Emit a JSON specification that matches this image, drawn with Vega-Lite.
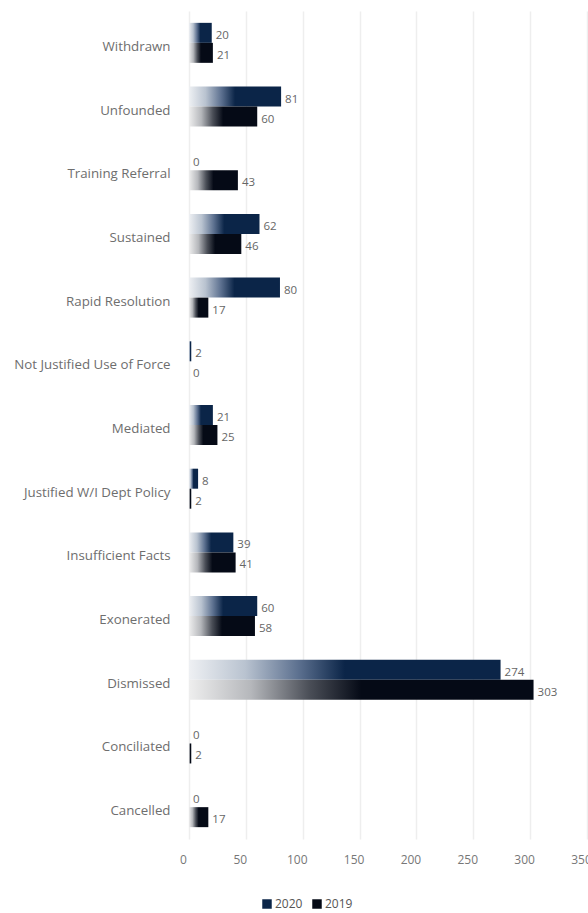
{
  "$schema": "https://vega.github.io/schema/vega-lite/v6.json",
  "autosize": "none",
  "width": 398,
  "height": 828,
  "padding": {"left": 189, "top": 11, "right": 1, "bottom": 74},
  "background": "white",
  "config": {
    "view": {"stroke": null},
    "font": "Open Sans",
    "axis": {"labelFont": "Open Sans", "labelColor": "#6b6b6b"},
    "legend": {"labelFont": "Open Sans"}
  },
  "data": {
    "values": [
      {"category": "Withdrawn", "year": "2020", "value": 20},
      {"category": "Withdrawn", "year": "2019", "value": 21},
      {"category": "Unfounded", "year": "2020", "value": 81},
      {"category": "Unfounded", "year": "2019", "value": 60},
      {"category": "Training Referral", "year": "2020", "value": 0},
      {"category": "Training Referral", "year": "2019", "value": 43},
      {"category": "Sustained", "year": "2020", "value": 62},
      {"category": "Sustained", "year": "2019", "value": 46},
      {"category": "Rapid Resolution", "year": "2020", "value": 80},
      {"category": "Rapid Resolution", "year": "2019", "value": 17},
      {"category": "Not Justified Use of Force", "year": "2020", "value": 2},
      {"category": "Not Justified Use of Force", "year": "2019", "value": 0},
      {"category": "Mediated", "year": "2020", "value": 21},
      {"category": "Mediated", "year": "2019", "value": 25},
      {"category": "Justified W/I Dept Policy", "year": "2020", "value": 8},
      {"category": "Justified W/I Dept Policy", "year": "2019", "value": 2},
      {"category": "Insufficient Facts", "year": "2020", "value": 39},
      {"category": "Insufficient Facts", "year": "2019", "value": 41},
      {"category": "Exonerated", "year": "2020", "value": 60},
      {"category": "Exonerated", "year": "2019", "value": 58},
      {"category": "Dismissed", "year": "2020", "value": 274},
      {"category": "Dismissed", "year": "2019", "value": 303},
      {"category": "Conciliated", "year": "2020", "value": 0},
      {"category": "Conciliated", "year": "2019", "value": 2},
      {"category": "Cancelled", "year": "2020", "value": 0},
      {"category": "Cancelled", "year": "2019", "value": 17}
    ]
  },
  "encoding": {
    "y": {
      "field": "category",
      "type": "nominal",
      "sort": null,
      "scale": {"paddingInner": 0.372, "paddingOuter": 0.186},
      "axis": {
        "title": null,
        "domain": false,
        "ticks": false,
        "labelPadding": 19,
        "labelFontSize": 13.3,
        "labelOffset": 4,
        "labelColor": "#6e6e6e",
        "labelLimit": 200
      }
    },
    "yOffset": {
      "field": "year",
      "type": "nominal",
      "sort": ["2020", "2019"],
      "scale": {"domain": ["2020", "2019"], "paddingInner": 0, "paddingOuter": 0}
    },
    "x": {
      "field": "value",
      "type": "quantitative",
      "scale": {"domain": [0, 350], "nice": false},
      "axis": {
        "title": null,
        "values": [0, 50, 100, 150, 200, 250, 300, 350],
        "domain": false,
        "ticks": false,
        "grid": true,
        "gridColor": "#eeeeee",
        "gridWidth": 1.5,
        "labelPadding": 15,
        "labelOffset": -6,
        "labelFontSize": 12,
        "labelColor": "#777777",
        "labelFlush": false
      }
    }
  },
  "layer": [
    {
      "transform": [{"filter": "datum.value < 0"}],
      "mark": {"type": "bar"},
      "encoding": {
        "color": {
          "field": "year",
          "type": "nominal",
          "scale": {"domain": ["2020", "2019"], "range": ["#0b2548", "#050a16"]},
          "legend": {
            "orient": "none",
            "legendX": 72,
            "legendY": 887,
            "direction": "horizontal",
            "title": null,
            "symbolType": "square",
            "symbolSize": 90,
            "symbolOpacity": 1,
            "symbolStrokeWidth": 0,
            "labelFontSize": 12,
            "labelColor": "#555555",
            "labelOffset": 2,
            "columnPadding": 8
          }
        }
      }
    },
    {
      "transform": [{"filter": "datum.year == '2020'"}],
      "mark": {
        "type": "bar",
        "fill": {
          "gradient": "linear",
          "x1": 0, "x2": 1, "y1": 0, "y2": 0,
          "stops": [
            {"offset": 0, "color": "#eef0f3"},
            {"offset": 0.18, "color": "#b9c3d0"},
            {"offset": 0.35, "color": "#5d7190"},
            {"offset": 0.5, "color": "#0b2548"},
            {"offset": 1, "color": "#0b2548"}
          ]
        }
      }
    },
    {
      "transform": [{"filter": "datum.year == '2019'"}],
      "mark": {
        "type": "bar",
        "fill": {
          "gradient": "linear",
          "x1": 0, "x2": 1, "y1": 0, "y2": 0,
          "stops": [
            {"offset": 0, "color": "#eeeeee"},
            {"offset": 0.18, "color": "#b5b7bb"},
            {"offset": 0.35, "color": "#4a4e57"},
            {"offset": 0.5, "color": "#050a16"},
            {"offset": 1, "color": "#050a16"}
          ]
        }
      }
    },
    {
      "mark": {
        "type": "text",
        "align": "left",
        "baseline": "middle",
        "dx": 4,
        "dy": 3,
        "fontSize": 11.5,
        "color": "#666666",
        "font": "Open Sans"
      },
      "encoding": {
        "text": {"field": "value", "type": "quantitative"}
      }
    }
  ]
}
